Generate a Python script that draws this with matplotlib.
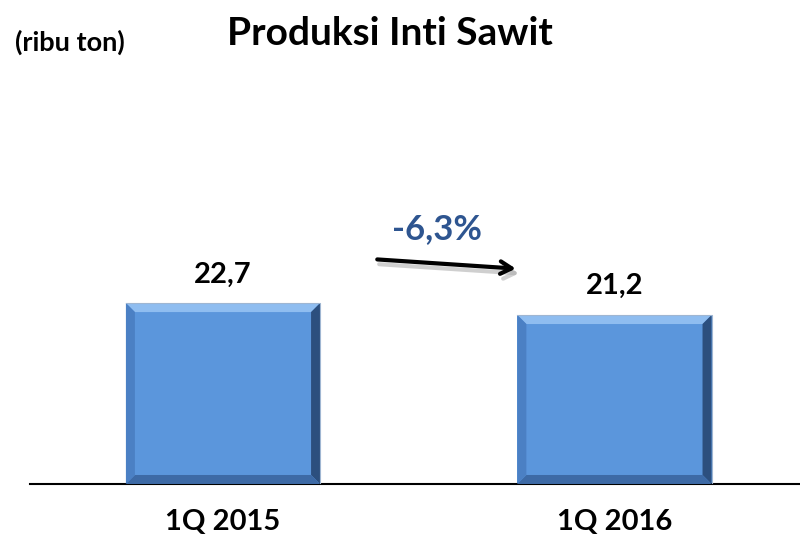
import matplotlib.pyplot as plt
from matplotlib.patches import Polygon

plt.rcParams['font.family'] = ['Lato', 'DejaVu Sans']

periods = ['1Q 2015', '1Q 2016']
values = [22.7, 21.2]
labels = ['22,7', '21,2']
change = '-6,3%'

fig = plt.figure(figsize=(8, 5.38), dpi=100)
ax = fig.add_axes([0.0375, 0.1004, 0.9625, 0.714])
ax.set_xlim(-0.493, 1.474)
ax.set_ylim(0, 48.2)

bars = ax.bar(range(len(values)), values, width=0.496, color='#5b96dc', zorder=2)

# bevel edges (about 9 px wide)
fig_w, fig_h = fig.get_size_inches() * fig.dpi
pos = ax.get_position()
px_x = (ax.get_xlim()[1] - ax.get_xlim()[0]) / (pos.width * fig_w)
px_y = (ax.get_ylim()[1] - ax.get_ylim()[0]) / (pos.height * fig_h)
bx, by = 9 * px_x, 9 * px_y
for b in bars:
    x0, w, h = b.get_x(), b.get_width(), b.get_height()
    x1 = x0 + w
    faces = [
        ([(x0, h), (x1, h), (x1 - bx, h - by), (x0 + bx, h - by)], '#8fbdf0'),  # top
        ([(x1, h), (x1, 0), (x1 - bx, by), (x1 - bx, h - by)], '#2c4f7e'),      # right
        ([(x0, 0), (x1, 0), (x1 - bx, by), (x0 + bx, by)], '#3d6aa6'),          # bottom
        ([(x0, 0), (x0, h), (x0 + bx, h - by), (x0 + bx, by)], '#4b80c4'),      # left
    ]
    for pts, c in faces:
        ax.add_patch(Polygon(pts, closed=True, color=c, lw=0, zorder=3))
    ax.plot([x0, x1, x1], [h, h, 0], color='#9fb6d2', lw=0.8, zorder=4)

for i, (v, t) in enumerate(zip(values, labels)):
    ax.text(i, v + 3.6, t, ha='center', va='center', fontsize=21,
            fontweight='bold', color='black')

for s in ['top', 'right', 'left']:
    ax.spines[s].set_visible(False)
ax.spines['bottom'].set_linewidth(1.5)
ax.set_yticks([])
ax.set_xticks(range(len(periods)))
ax.set_xticklabels(periods, fontsize=21, fontweight='bold')
ax.tick_params(axis='x', length=0, pad=18)

# change arrow with soft shadow
ax.annotate('', xy=(0.763, 26.4), xytext=(0.392, 27.6),
            arrowprops=dict(arrowstyle='->,head_length=0.8,head_width=0.45',
                            lw=3, color='#b0b0b0', alpha=0.6), zorder=1)
ax.annotate('', xy=(0.755, 27.0), xytext=(0.387, 28.2),
            arrowprops=dict(arrowstyle='->,head_length=0.8,head_width=0.45',
                            lw=3, color='black'), zorder=5)
ax.text(0.547, 32.0, change, ha='center', va='center', fontsize=25,
        fontweight='bold', color='#2e5590')

fig.text(0.019, 0.922, '(ribu ton)', ha='left', va='center', fontsize=19.5,
         fontweight='bold')
fig.text(0.4875, 0.938, 'Produksi Inti Sawit', ha='center', va='center',
         fontsize=28, fontweight='bold')

fig.savefig('out.png', dpi=100)
